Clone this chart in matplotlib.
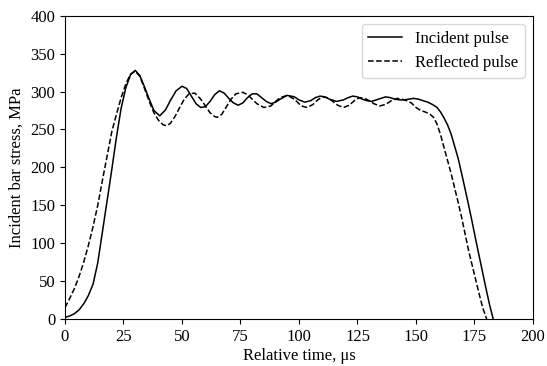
import numpy as np
import matplotlib
matplotlib.use('Agg')
import matplotlib.pyplot as plt

plt.rcParams['font.family'] = ['Liberation Serif', 'DejaVu Serif']
plt.rcParams['font.size'] = 12

# Incident pulse (time in us, stress in MPa)
t_inc = [0, 2, 4, 6, 8, 10, 12, 14, 16, 18, 20, 22, 24, 26, 28, 30,
         32, 34, 36, 38, 40.5, 43, 45, 47.5, 50, 52, 54, 56, 58, 60,
         62, 64, 66, 68, 70, 72, 74, 76, 78, 80, 82, 84, 86, 88, 90,
         92, 95, 98, 100, 102.5, 105, 107, 109, 111, 113, 116, 119, 121,
         123, 125, 127, 129, 131, 133, 135, 137, 139, 141, 143, 145, 147,
         149, 151, 153, 155, 157, 159, 160.5, 162, 163.5, 165, 166.5, 168,
         169.5, 171, 172.5, 174, 175.5, 177, 178.5, 180, 181.5, 183]
s_inc = [2, 4, 7, 12, 20, 31, 46, 74, 115, 156, 197, 240, 278, 305, 322, 328,
         321, 306, 290, 275, 268, 276, 288, 301, 307, 304, 294, 284, 279, 280,
         287, 296, 301, 298, 291, 285, 282, 285, 292, 297, 297, 292, 287, 284, 286,
         290, 295, 293, 289, 286, 288, 292, 294, 293, 290, 287, 289, 292,
         294, 293, 290, 288, 287, 289, 291, 293, 292, 290, 289, 289, 290,
         291, 290, 288, 286, 283, 279, 273, 265, 256, 244, 228, 212,
         192, 171, 150, 128, 105, 83, 61, 39, 18, 0]

# Reflected pulse
t_ref = [0, 2, 4, 6, 8, 10, 12, 14, 16, 18, 20, 22, 24, 26, 28, 30,
         32, 34, 36, 38, 40, 42, 43.5, 45, 47, 49, 51, 53, 55.5, 58, 60,
         62, 64, 65, 67, 69, 71, 73, 76, 78, 80, 82, 85, 88, 90, 92,
         95, 98, 101, 103.5, 106, 108, 110, 112, 114, 116.5, 119, 121.5,
         124, 126, 128, 130, 132, 134.5, 137, 139.5, 142, 144, 146, 148,
         150, 152, 154, 156, 157.5, 159, 160.5, 162, 163.5, 165, 166.5, 168,
         169.5, 171, 172.5, 174, 175.5, 177, 178.5, 180.2]
s_ref = [15, 27, 40, 56, 75, 97, 122, 150, 183, 215, 247, 270, 292, 310, 323, 327,
         320, 304, 287, 272, 262, 256, 255, 258, 267, 279, 290, 297, 298, 290, 281,
         272, 267, 266, 270, 280, 290, 297, 299, 296, 290, 284, 279, 281, 287, 292,
         295, 290, 281, 279, 283, 289, 293, 292, 288, 282, 279, 282,
         289, 292, 291, 288, 284, 281, 283, 288, 291, 290, 288, 285,
         279, 275, 273, 270, 266, 257, 243, 226, 209, 192, 173, 154,
         134, 112, 90, 71, 52, 33, 15, 0]

fig = plt.figure(figsize=(5.47, 3.66), dpi=100)
ax = fig.add_axes([0.1188, 0.1284, 0.8556, 0.8286])

ax.plot(t_inc, s_inc, color='k', lw=1.1, label='Incident pulse')
ax.plot(t_ref, s_ref, color='k', lw=1.1, ls='--', label='Reflected pulse')

ax.set_xlim(0, 200)
ax.set_ylim(0, 400)
ax.set_xticks(np.arange(0, 201, 25))
ax.set_yticks(np.arange(0, 401, 50))
ax.set_xlabel('Relative time, μs', labelpad=2)
ax.set_ylabel('Incident bar stress, MPa', labelpad=4)
ax.legend(loc='upper right')

fig.savefig('out.png', dpi=100)
